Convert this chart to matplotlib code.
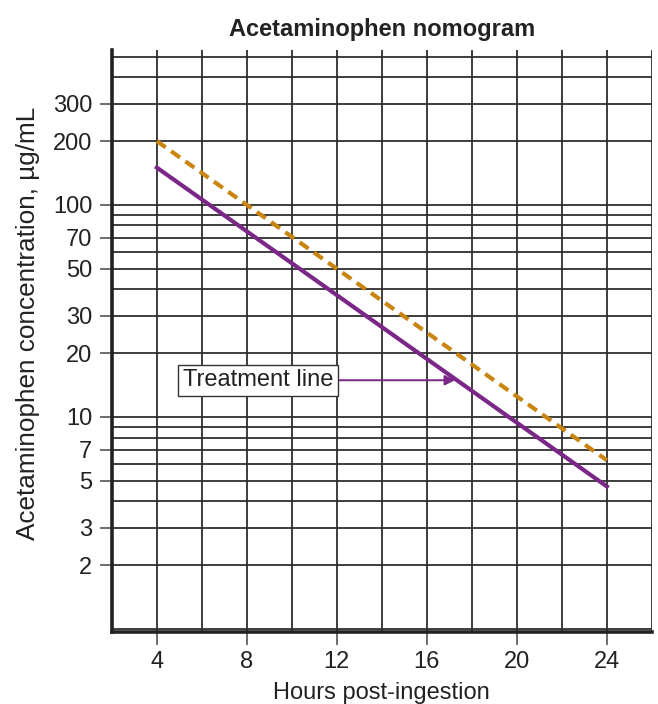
"""Acetaminophen (Rumack-Matthew) nomogram on a log concentration axis."""

import matplotlib

matplotlib.use("Agg")
import matplotlib.pyplot as plt
from matplotlib.ticker import FixedLocator, NullFormatter

plt.rcParams["font.family"] = ["Liberation Sans", "DejaVu Sans"]

# Data: hours post-ingestion and concentrations (ug/mL) at line ends.
hours = [4, 24]
nomogram_line = [200, 6.25]
treatment_line = [150, 4.7]

x_ticks = [4, 8, 12, 16, 20, 24]
x_grid = [4, 6, 8, 10, 12, 14, 16, 18, 20, 22, 24, 26]
y_ticks = [2, 3, 5, 7, 10, 20, 30, 50, 70, 100, 200, 300]
y_grid = [1, 2, 3, 4, 5, 6, 7, 8, 9, 10, 20, 30, 40, 50, 60, 70, 80, 90,
          100, 200, 300, 400, 500]

PURPLE = "#7a2788"
ORANGE = "#c98510"
GRID = "#2e2e2e"
TEXT = "#222222"

fig = plt.figure(figsize=(6.58, 7.04), dpi=100)
ax = fig.add_axes([0.170, 0.1023, 0.8207, 0.8267])

ax.set_yscale("log")
ax.set_xlim(2, 26)
ax.set_ylim(0.968, 538)

# Grid drawn by hand so minor lines match the chart.
for gx in x_grid:
    ax.axvline(gx, color=GRID, lw=1.3, zorder=1)
for gy in y_grid:
    ax.axhline(gy, color=GRID, lw=1.3, zorder=1)

ax.plot(hours, nomogram_line, color=ORANGE, lw=3.0, ls=(0, (2.6, 1.6)),
        solid_capstyle="butt", zorder=3)
ax.plot(hours, treatment_line, color=PURPLE, lw=3.0, zorder=4)

ax.annotate(
    "Treatment line",
    xy=(17.25, 14.9),
    xytext=(8.5, 14.9),
    fontsize=17,
    ha="center",
    va="center",
    color=TEXT,
    bbox=dict(boxstyle="square,pad=0.2", fc="white", ec="#333333", lw=1.0),
    arrowprops=dict(arrowstyle="-|>", color=PURPLE, lw=1.4,
                    mutation_scale=15, shrinkA=0, shrinkB=0),
    zorder=5,
)

ax.xaxis.set_major_locator(FixedLocator(x_ticks))
ax.set_xticklabels([str(v) for v in x_ticks])
ax.yaxis.set_major_locator(FixedLocator(y_ticks))
ax.set_yticklabels([str(v) for v in y_ticks])
ax.yaxis.set_minor_locator(FixedLocator([]))
ax.yaxis.set_minor_formatter(NullFormatter())
ax.tick_params(axis="both", which="major", direction="out", length=9,
               width=1.2, color="#555555", labelsize=17, labelcolor=TEXT,
               pad=5)

for side in ("top", "right"):
    ax.spines[side].set_visible(False)
for side in ("left", "bottom"):
    ax.spines[side].set_linewidth(2.6)
    ax.spines[side].set_color(TEXT)
    ax.spines[side].set_zorder(6)

ax.set_title("Acetaminophen nomogram", fontsize=17, fontweight="bold",
             color=TEXT, pad=10)
ax.set_xlabel("Hours post-ingestion", fontsize=17, color=TEXT, labelpad=6)
ax.set_ylabel("Acetaminophen concentration, \u00b5g/mL", fontsize=18.8,
              color=TEXT)
ax.yaxis.set_label_coords(-0.133, 0.531)

fig.savefig("out.png", dpi=100)
